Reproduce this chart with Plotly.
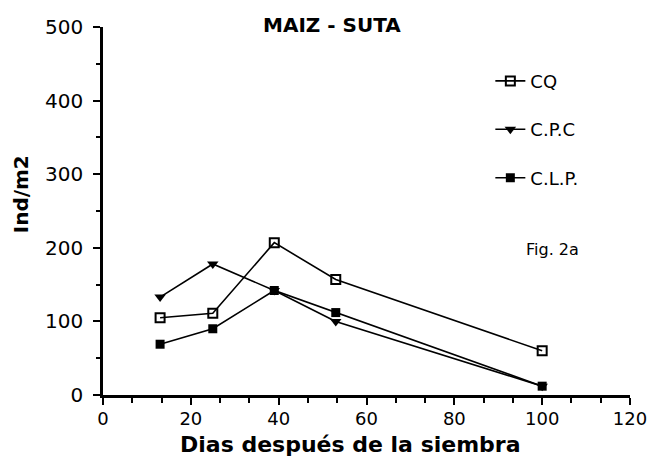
import plotly.graph_objects as go

days = [13, 25, 39, 53, 100]
cq = [105, 111, 207, 157, 60]
cpc = [133, 178, 142, 100, 12]
clp = [69, 90, 142, 112, 12]
series_names = ["CQ", "C.P.C", "C.L.P."]

FONT = "DejaVu Sans"
fig = go.Figure()

styles = [
    dict(symbol="square-open", size=9, line=dict(width=2, color="black")),
    dict(symbol="triangle-down", size=10),
    dict(symbol="square", size=9),
]
for i, (name, vals, mk) in enumerate(zip(series_names, [cq, cpc, clp], styles)):
    fig.add_trace(go.Scatter(
        x=days, y=vals, name=name, mode="lines+markers",
        line=dict(color="black", width=1.6),
        marker=dict(color="black", **mk),
        legendgroup=f"g{i}",
    ))

# page body adds an 8px offset, so the figure is sized 8px smaller
fig.update_layout(
    width=647, height=461,
    margin=dict(l=95, r=25, t=19, b=74, autoexpand=False),
    plot_bgcolor="white", paper_bgcolor="white",
    font=dict(family=FONT, color="black", size=18),
    showlegend=True,
    legend=dict(x=0.735, y=0.903, xanchor="left", yanchor="top",
                tracegroupgap=22, font=dict(size=18, family=FONT),
                bgcolor="rgba(0,0,0,0)"),
    xaxis=dict(range=[0, 120], tickvals=[0, 20, 40, 60, 80, 100, 120],
               ticks="outside", ticklen=7, tickwidth=2, tickcolor="black",
               showline=True, linewidth=2.5, linecolor="black",
               showgrid=False, zeroline=False, automargin=False,
               ticklabelstandoff=-1,
               tickfont=dict(size=18, family=FONT),
               minor=dict(dtick=20/3, tick0=0, ticks="outside", ticklen=5,
                          tickwidth=2, tickcolor="black", showgrid=False)),
    yaxis=dict(range=[0, 500], tickvals=[0, 100, 200, 300, 400, 500],
               ticks="outside", ticklen=7, tickwidth=2, tickcolor="black",
               showline=True, linewidth=2.5, linecolor="black",
               showgrid=False, zeroline=False, automargin=False,
               ticklabelstandoff=6,
               tickfont=dict(size=20, family=FONT),
               minor=dict(dtick=50, ticks="outside", ticklen=4,
                          tickwidth=2, tickcolor="black", showgrid=False)),
    annotations=[
        dict(text="<b>MAIZ - SUTA</b>", xref="paper", yref="paper",
             x=0.435, y=1.005, xanchor="center", yanchor="middle",
             showarrow=False, font=dict(size=20, family=FONT)),
        dict(text="Fig. 2a", xref="paper", yref="paper",
             x=0.852, y=0.395, xanchor="center", yanchor="middle",
             showarrow=False, font=dict(size=16, family=FONT)),
        dict(text="<b>Dias después de la siembra</b>", xref="paper", yref="paper",
             x=0.469, y=-0.135, xanchor="center", yanchor="middle",
             showarrow=False, font=dict(size=22, family=FONT)),
        dict(text="<b>Ind/m2</b>", xref="paper", yref="paper",
             x=-0.154, y=0.545, xanchor="center", yanchor="middle",
             textangle=-90, showarrow=False, font=dict(size=20, family=FONT)),
    ],
)

fig.write_html("out.html")
